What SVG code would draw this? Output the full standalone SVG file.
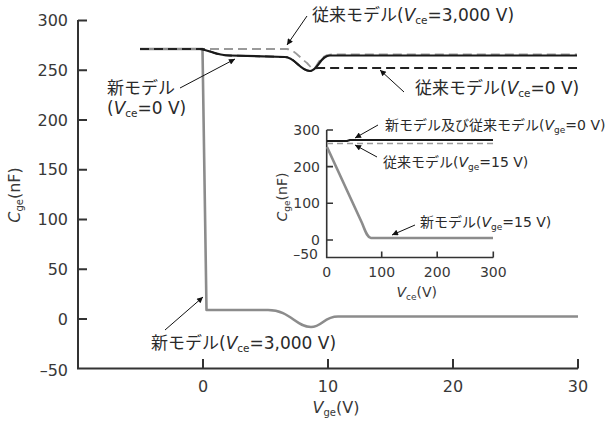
<svg xmlns="http://www.w3.org/2000/svg" width="611" height="428" viewBox="0 0 611 428">
<defs>
<marker id="ah" viewBox="0 0 10 10" refX="10" refY="5" markerWidth="9" markerHeight="6" orient="auto" markerUnits="userSpaceOnUse"><path d="M0,0 L10,5 L0,10 z" fill="#111"/></marker>
<style>
.ax{fill:none;stroke:#333;stroke-width:2}
.axi{fill:none;stroke:#333;stroke-width:1.6}
.tk{font-family:"DejaVu Sans",sans-serif;font-size:16px;fill:#383838}
.tki{font-family:"DejaVu Sans",sans-serif;font-size:14px;fill:#383838}
.lb{font-family:"DejaVu Sans","Noto Sans CJK JP",sans-serif;font-size:17px;fill:#2a2a2a}
.lbi{font-family:"DejaVu Sans","Noto Sans CJK JP",sans-serif;font-size:14px;fill:#2a2a2a}
.it{font-style:italic}
.gs{fill:none;stroke:#8c8c8c;stroke-width:2.6;stroke-linejoin:round}
.gd{fill:none;stroke:#9a9a9a;stroke-width:1.8;stroke-dasharray:9 5}
.bs{fill:none;stroke:#1a1a1a;stroke-width:2.2;stroke-linejoin:round}
.bd{fill:none;stroke:#222;stroke-width:1.8;stroke-dasharray:9 5}
.ar{fill:none;stroke:#111;stroke-width:1;marker-end:url(#ah)}
</style>
</defs>
<rect width="611" height="428" fill="#fff"/>
<g id="main-axes">
<path class="ax" d="M78,20 L78,368.5 L578,368.5"/>
<path class="ax" d="M78,20.5 H87 M78,70.3 H87 M78,120 H87 M78,169.8 H87 M78,219.5 H87 M78,269.3 H87 M78,319 H87"/>
<path class="ax" d="M203,368.5 V359 M328,368.5 V359 M453,368.5 V359 M578,368.5 V359"/>
<g class="tk" text-anchor="end">
<text x="68" y="26">300</text>
<text x="68" y="76">250</text>
<text x="68" y="126">200</text>
<text x="68" y="175">150</text>
<text x="68" y="225">100</text>
<text x="68" y="275">50</text>
<text x="68" y="325">0</text>
<text x="68" y="376">–50</text>
</g>
<g class="tk" text-anchor="middle">
<text x="203" y="392">0</text>
<text x="328" y="392">10</text>
<text x="453" y="392">20</text>
<text x="578" y="392">30</text>
</g>
<text class="tk" x="336" y="413" text-anchor="middle"><tspan class="it">V</tspan><tspan font-size="10" dy="3">ge</tspan><tspan dy="-3">(V)</tspan></text>
<text class="tk" transform="translate(20,195) rotate(-90)" text-anchor="middle"><tspan class="it">C</tspan><tspan font-size="10" dy="3">ge</tspan><tspan dy="-3">(nF)</tspan></text>
</g>
<g id="main-curves">
<path id="conv-vce3000" class="gd" d="M140,49 L287,49 C295,50 300,58 307,63 C311,67 312,70 315,68 C320,60 322,54.5 332,54.5 L577,54.5"/>
<path id="new-vce3000" class="gs" d="M140,49 L202.5,49 L206.5,310 L268,310 C290,310 296,327 311,327 C322,327 324,316.5 338,316.5 L578,316.5"/>
<path id="conv-vce0" class="bd" d="M140,49 L202,49 C210,50 215,55.5 230,55.5 L285,57 C295,57 300,71 310,71 C313,71 314,68 318,68 L577,68"/>
<path id="new-vce0" class="bs" d="M200,49 C210,50 215,55.5 230,55.5 L285,57 C295,57 300,71 310,71 C318,71 320,55.5 330,55.5 L577,55.5"/>
</g>
<g id="main-labels">
<g id="lbl-conv-vce3000">
<text class="lb" x="312" y="21">従来モデル(<tspan class="it">V</tspan><tspan font-size="10.5" dy="3">ce</tspan><tspan dy="-3">=3,000 V)</tspan></text>
</g>
<g id="lbl-new-vce0">
<text class="lb" x="107" y="94">新モデル</text>
<text class="lb" x="107" y="114">(<tspan class="it">V</tspan><tspan font-size="10.5" dy="3">ce</tspan><tspan dy="-3">=0 V)</tspan></text>
</g>
<g id="lbl-conv-vce0">
<text class="lb" x="415" y="94">従来モデル(<tspan class="it">V</tspan><tspan font-size="10.5" dy="3">ce</tspan><tspan dy="-3">=0 V)</tspan></text>
</g>
<g id="lbl-new-vce3000">
<text class="lb" x="151" y="349">新モデル(<tspan class="it">V</tspan><tspan font-size="10.5" dy="3">ce</tspan><tspan dy="-3">=3,000 V)</tspan></text>
</g>
</g>
<g id="inset-axes">
<path class="axi" d="M326.7,130 L326.7,257.5 L493.3,257.5"/>
<path class="axi" d="M326.7,130 H333 M326.7,166.6 H333 M326.7,203.3 H333 M326.7,240 H333"/>
<path class="axi" d="M381.7,257.5 V251.5 M437.2,257.5 V251.5 M493.3,257.5 V251.5"/>
<g class="tki" text-anchor="end">
<text x="320" y="135">300</text>
<text x="320" y="171.5">200</text>
<text x="320" y="208">100</text>
<text x="320" y="245">0</text>
<text x="318" y="259">–50</text>
</g>
<g class="tki" text-anchor="middle">
<text x="326.7" y="277">0</text>
<text x="381.7" y="277">100</text>
<text x="437.2" y="277">200</text>
<text x="493.3" y="277">300</text>
</g>
<text class="tki" x="416.7" y="297" text-anchor="middle"><tspan class="it">V</tspan><tspan font-size="9" dy="2.5">ce</tspan><tspan dy="-2.5">(V)</tspan></text>
<text class="tki" transform="translate(287,197) rotate(-90)" text-anchor="middle"><tspan class="it">C</tspan><tspan font-size="9" dy="2.5">ge</tspan><tspan dy="-2.5">(nF)</tspan></text>
</g>
<g id="inset-curves">
<path id="inset-conv-vge15" class="gd" style="stroke-dasharray:6 4;stroke-width:1.5" d="M327,143.5 L493,143.5"/>
<path id="inset-new-vge15" class="gs" d="M327,147 L362,223 C365,230 367,237.5 371,238 L493,238"/>
<path id="inset-vge0" class="bs" d="M327,141 L347,141 L350,140 L493,140"/>
</g>
<g id="inset-labels">
<text class="lbi" x="385" y="130">新モデル及び従来モデル(<tspan class="it">V</tspan><tspan font-size="9" dy="2.5">ge</tspan><tspan dy="-2.5">=0 V)</tspan></text>
<text class="lbi" x="383" y="167">従来モデル(<tspan class="it">V</tspan><tspan font-size="9" dy="2.5">ge</tspan><tspan dy="-2.5">=15 V)</tspan></text>
<text class="lbi" x="420" y="227">新モデル(<tspan class="it">V</tspan><tspan font-size="9" dy="2.5">ge</tspan><tspan dy="-2.5">=15 V)</tspan></text>
</g>
<g id="connectors">
<path class="ar" d="M307,16 L287,45"/>
<path class="ar" d="M180,88 L235,59"/>
<path class="ar" d="M404,92 L380,70"/>
<path class="ar" d="M165,330 L203,297"/>
<path class="ar" d="M378,125 L355,138"/>
<path class="ar" d="M377,157 L355,145"/>
<path class="ar" d="M415,225 L392,235"/>
</g>
</svg>
